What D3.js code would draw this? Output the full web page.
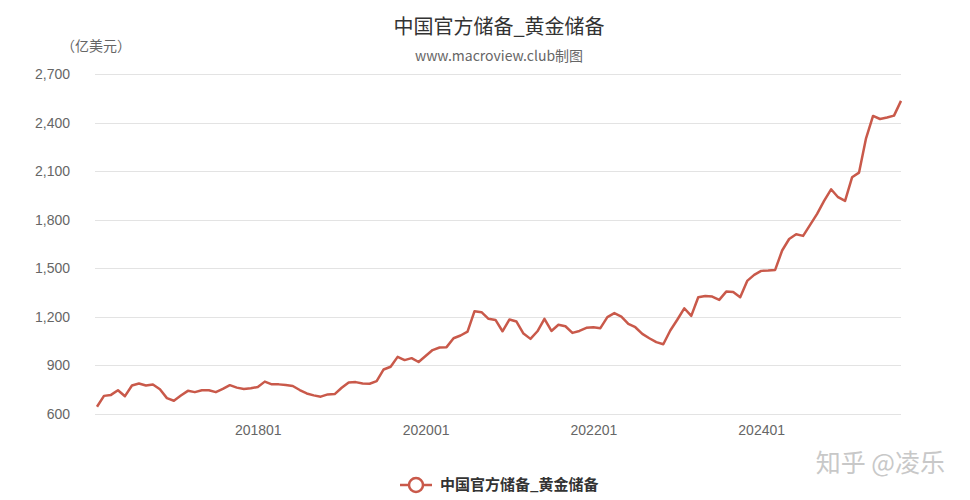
<!doctype html>
<html>
<head>
<meta charset="utf-8">
<style>
  body { margin: 0; background: #fff; font-family: "Noto Sans CJK SC", "Noto Sans", sans-serif; }
  .grid line { stroke: #e3e3e3; stroke-width: 1; shape-rendering: crispEdges; }
  .axis text { fill: #666; font-size: 14px; }
</style>
<script src="https://d3js.org/d3.v7.min.js"></script>
</head>
<body>
<script>
// monthly gold reserve, 100 million USD
var startYear = 2016, startMonth = 2;
var gold = [
  645, 712, 718, 747, 710, 776, 788, 776, 782, 753, 698, 682,
  714, 743, 735, 747, 747, 735, 755, 778, 763, 755, 759, 767,
  800, 783, 783, 779, 773, 748, 727, 715, 707, 721, 723, 762,
  795, 797, 789, 787, 803, 875, 892, 953, 933, 945, 921, 958,
  995, 1011, 1013, 1068, 1085, 1109, 1235, 1229, 1188, 1181, 1111, 1184,
  1171, 1097, 1064, 1111, 1188, 1113, 1151, 1142, 1101, 1113, 1132, 1136,
  1130, 1198, 1223, 1202, 1157, 1136, 1095, 1068, 1044, 1031, 1116, 1182,
  1253, 1206, 1321, 1329, 1325, 1305, 1356, 1354, 1321, 1422, 1459, 1484,
  1486, 1490, 1610, 1681, 1710, 1700, 1768, 1836, 1916, 1988, 1939, 1916,
  2062, 2091, 2303, 2441, 2422, 2431, 2443, 2534
];
var xTicks = ['201801', '202001', '202201', '202401'];
var yTicks = [600, 900, 1200, 1500, 1800, 2100, 2400, 2700];
var seriesName = '中国官方储备_黄金储备';

// month labels like 201602
var months = gold.map(function(d, i) {
  var m = startMonth - 1 + i;
  var yr = startYear + Math.floor(m / 12);
  return yr + String(m % 12 + 1).padStart(2, '0');
});
var data = gold.map(function(v, i) { return { month: months[i], value: v }; });

var W = 970, H = 500;
var plot = { left: 97, right: 901, top: 74, bottom: 414 };
var lineColor = '#c9594a';

var svg = d3.select('body').append('svg')
  .attr('width', W)
  .attr('height', H);

var x = d3.scalePoint().domain(months).range([plot.left, plot.right]);
var y = d3.scaleLinear().domain([600, 2700]).range([plot.bottom, plot.top]);

// horizontal grid lines
svg.append('g')
  .attr('class', 'grid')
  .selectAll('line')
  .data(yTicks)
  .enter().append('line')
  .attr('x1', plot.left - 2)
  .attr('x2', plot.right)
  .attr('y1', d => Math.round(y(d)) + 0.5)
  .attr('y2', d => Math.round(y(d)) + 0.5);

// y axis labels
var yAxis = svg.append('g')
  .attr('class', 'axis')
  .attr('transform', 'translate(' + (plot.left - 27) + ',0)')
  .call(d3.axisLeft(y).tickValues(yTicks).tickSize(0).tickPadding(0).tickFormat(d3.format(',')));
yAxis.select('.domain').remove();

// x axis labels
var xAxis = svg.append('g')
  .attr('class', 'axis')
  .attr('transform', 'translate(0,' + (plot.bottom + 8) + ')')
  .call(d3.axisBottom(x).tickValues(xTicks).tickSize(0).tickPadding(0));
xAxis.select('.domain').remove();
xAxis.selectAll('text').attr('dy', '0.9em');

// the line
var line = d3.line().x(d => x(d.month)).y(d => y(d.value));
svg.append('path')
  .datum(data)
  .attr('fill', 'none')
  .attr('stroke', lineColor)
  .attr('stroke-width', 2.5)
  .attr('stroke-linejoin', 'round')
  .attr('d', line);

// titles
svg.append('text')
  .text(seriesName)
  .attr('x', 499).attr('y', 34)
  .attr('text-anchor', 'middle')
  .style('font-size', '20px')
  .style('fill', '#333');

svg.append('text')
  .text('www.macroview.club制图')
  .attr('x', 499).attr('y', 61)
  .attr('text-anchor', 'middle')
  .style('font-size', '14px')
  .style('fill', '#666');

svg.append('text')
  .text('（亿美元）')
  .attr('x', 96).attr('y', 51)
  .attr('text-anchor', 'middle')
  .style('font-size', '14px')
  .style('fill', '#666');

// legend
var lg = svg.append('g').attr('transform', 'translate(400,485)');
lg.append('line')
  .attr('x1', 0).attr('x2', 32)
  .attr('stroke', lineColor).attr('stroke-width', 2.5);
lg.append('circle')
  .attr('cx', 16).attr('r', 7)
  .attr('fill', '#fff').attr('stroke', lineColor).attr('stroke-width', 2.5);
lg.append('text')
  .text(seriesName)
  .attr('x', 40).attr('dy', '0.35em')
  .style('font-size', '15px')
  .style('font-weight', 'bold')
  .style('fill', '#333');

// watermark
svg.append('text')
  .text('知乎 @凌乐')
  .attr('x', 945).attr('y', 472)
  .attr('text-anchor', 'end')
  .style('font-size', '25px')
  .style('fill', '#c8c8c8');
</script>
</body>
</html>
